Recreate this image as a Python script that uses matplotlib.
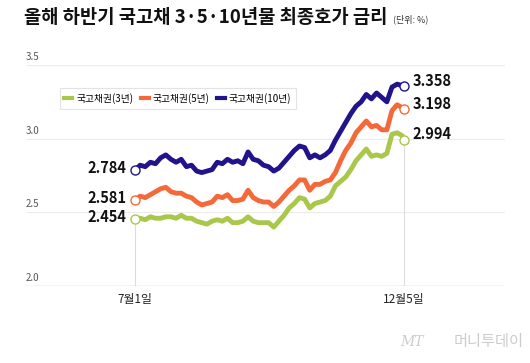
"""
Half-year government bond yield chart (3, 5 and 10 year).
"""

import matplotlib

matplotlib.use("Agg")
import matplotlib.pyplot as plt
import matplotlib.transforms as mtransforms

plt.rcParams["font.family"] = ["Noto Sans CJK KR", "DejaVu Sans"]

# Days since July 1 (sampled every third calendar day, last point Dec 5).
days = list(range(0, 157, 3)) + [157]

yield_3y = [
    2.454, 2.46, 2.45, 2.47, 2.46, 2.46, 2.47, 2.47, 2.46, 2.48,
    2.46, 2.46, 2.44, 2.43, 2.42, 2.44, 2.45, 2.44, 2.46, 2.43,
    2.43, 2.44, 2.47, 2.44, 2.43, 2.43, 2.43, 2.40, 2.44, 2.48,
    2.53, 2.56, 2.60, 2.59, 2.53, 2.56, 2.57, 2.58, 2.61, 2.68,
    2.71, 2.74, 2.79, 2.85, 2.89, 2.93, 2.88, 2.89, 2.88, 2.90,
    3.03, 3.04, 3.02, 2.994,
]
yield_5y = [
    2.581, 2.61, 2.60, 2.62, 2.64, 2.66, 2.67, 2.64, 2.63, 2.63,
    2.61, 2.60, 2.57, 2.55, 2.56, 2.57, 2.61, 2.60, 2.62, 2.58,
    2.58, 2.59, 2.65, 2.60, 2.58, 2.57, 2.57, 2.54, 2.57, 2.61,
    2.65, 2.68, 2.72, 2.72, 2.65, 2.69, 2.69, 2.71, 2.72, 2.77,
    2.85, 2.92, 2.97, 3.04, 3.08, 3.12, 3.08, 3.09, 3.06, 3.06,
    3.19, 3.23, 3.21, 3.198,
]
yield_10y = [
    2.784, 2.82, 2.81, 2.84, 2.83, 2.87, 2.89, 2.86, 2.84, 2.86,
    2.81, 2.82, 2.78, 2.77, 2.78, 2.79, 2.84, 2.83, 2.86, 2.84,
    2.85, 2.83, 2.91, 2.86, 2.85, 2.82, 2.81, 2.78, 2.80, 2.84,
    2.88, 2.92, 2.95, 2.94, 2.87, 2.89, 2.87, 2.89, 2.92, 2.99,
    3.05, 3.11, 3.17, 3.22, 3.25, 3.30, 3.27, 3.31, 3.28, 3.25,
    3.35, 3.37, 3.36, 3.358,
]

series_names = ["국고채권(3년)", "국고채권(5년)", "국고채권(10년)"]
series_colors = ["#a9c84b", "#f4693a", "#21138c"]
x_tick_days = [0, 157]
x_tick_labels = ["7월1일", "12월5일"]
y_ticks = [2.0, 2.5, 3.0, 3.5]

fig = plt.figure(figsize=(5.3, 3.63), dpi=100)
ax = fig.add_axes([0.049, 0.212, 0.904, 0.609])
ax.set_xlim(-63.6, 216)
ax.set_ylim(2.0, 3.5)

# Grid and frame.
for v in y_ticks[1:]:
    ax.axhline(v, color="#ececec", linewidth=0.8, zorder=0)
ax.axhline(2.0, color="#c8c8c8", linewidth=1.0, zorder=1)
for spine in ax.spines.values():
    spine.set_visible(False)
ax.set_xticks([])
ax.set_yticks([])

all_series = [yield_3y, yield_5y, yield_10y]

# Vertical guides from the baseline to the lowest endpoint.
for idx in (0, -1):
    low = min(s[idx] for s in all_series)
    ax.plot([days[idx], days[idx]], [2.0, low], color="#dcdcdc",
            linewidth=0.8, zorder=1)

for values, name, color in zip(all_series, series_names, series_colors):
    ax.plot(days, values, color=color, linewidth=3.5, label=name,
            solid_joinstyle="round", zorder=3)
    ax.plot([days[0], days[-1]], [values[0], values[-1]], linestyle="none",
            marker="o", markersize=6.5, markerfacecolor="white",
            markeredgecolor=color, markeredgewidth=1.0, zorder=4,
            clip_on=False)
    ax.text(days[0] - 5, values[0] + 0.015, f"{values[0]:.3f}",
            ha="right", va="center", fontsize=10.5, fontweight="bold",
            color="#111111")
    ax.text(days[-1] + 5, values[-1] + 0.035, f"{values[-1]:.3f}",
            ha="left", va="center", fontsize=10.5, fontweight="bold",
            color="#111111")

# Y labels sit above their gridlines at the left edge.
trans = mtransforms.blended_transform_factory(ax.transAxes, ax.transData)
for v in y_ticks:
    ax.text(0.0, v + 0.02, f"{v:.1f}", transform=trans, ha="left",
            va="bottom", fontsize=7, color="#555555")

for d, label in zip(x_tick_days, x_tick_labels):
    ax.text(d, 1.91, label, ha="center", va="center", fontsize=8.5,
            color="#222222")

leg = ax.legend(loc="upper left", bbox_to_anchor=(0.06, 0.918), ncol=3,
                fontsize=7, handlelength=0.8, handletextpad=0.4,
                columnspacing=0.8, frameon=True, fancybox=False,
                borderpad=0.5)
leg.get_frame().set_edgecolor("#dddddd")
leg.get_frame().set_linewidth(0.8)
for line in leg.get_lines():
    line.set_linewidth(3)

# Title.
fig.text(0.045, 0.951, "올해 하반기 국고채 3·5·10년물 최종호가 금리",
         ha="left", va="center", fontsize=13.5, fontweight="bold",
         color="#111111")
fig.text(0.742, 0.946, "(단위: %)", ha="left", va="center", fontsize=6.5,
         color="#333333")

# Watermark.
fig.text(0.755, 0.058, "MT", ha="left", va="center", fontsize=10,
         style="italic", color="#cccccc", family="DejaVu Serif")
fig.text(0.855, 0.058, "머니투데이", ha="left", va="center", fontsize=11,
         color="#cccccc", fontweight="light")

fig.savefig("out.png", dpi=100)
